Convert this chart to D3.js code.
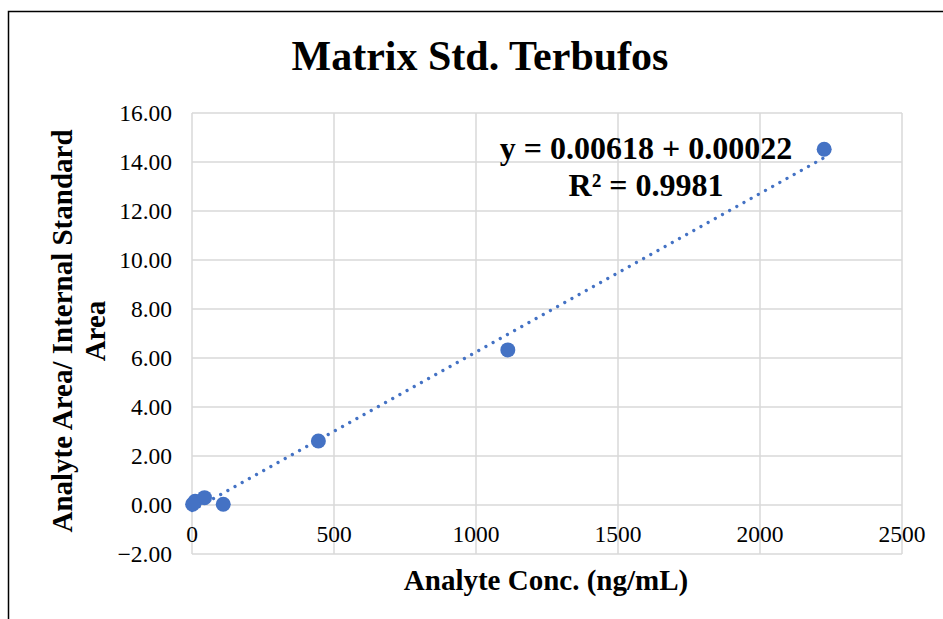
<!DOCTYPE html>
<html>
<head>
<meta charset="utf-8">
<script src="https://cdn.jsdelivr.net/npm/d3@7"></script>
<style>
  body { margin: 0; background: #fff; }
  text { font-family: "Liberation Serif", "Times New Roman", serif; }
</style>
</head>
<body>
<script>
//chart values
var conc = [2.2, 11, 44, 110, 445, 1112, 2226];
var ratio = [0.03, 0.15, 0.30, 0.03, 2.61, 6.33, 14.52];
var xTicks = [0, 500, 1000, 1500, 2000, 2500];
var yTicks = [-2, 0, 2, 4, 6, 8, 10, 12, 14, 16];
var titleText = "Matrix Std. Terbufos";
var xTitle = "Analyte Conc. (ng/mL)";
var yTitle = ["Analyte Area/ Internal Standard", "Area"];
var eqText = ["y = 0.00618 + 0.00022", "R\u00b2 = 0.9981"];

window.onload = drawChart();

function drawChart(){
    var width = 943, height = 619;
    var blue = "#4472C4";

    var svg = d3.select("body")
        .append("svg")
        .attr("width", width)
        .attr("height", height);

    //outer frame (runs off the right and bottom)
    svg.append("rect")
        .attr("x", 8.5).attr("y", 11.5)
        .attr("width", 1000).attr("height", 700)
        .style("fill", "#fff")
        .style("stroke", "#000")
        .style("stroke-width", 1.5);

    var x = d3.scaleLinear().domain([0, 2500]).range([192, 902]);
    var y = d3.scaleLinear().domain([-2, 16]).range([554, 113]);

    //gridlines
    svg.selectAll(".hgrid")
        .data(yTicks)
        .enter()
        .append("line")
        .attr("x1", x(0)).attr("x2", x(2500))
        .attr("y1", function(d){ return y(d); })
        .attr("y2", function(d){ return y(d); })
        .style("stroke", "#d9d9d9")
        .style("stroke-width", 1.5);
    svg.selectAll(".vgrid")
        .data(xTicks)
        .enter()
        .append("line")
        .attr("y1", y(-2)).attr("y2", y(16))
        .attr("x1", function(d){ return x(d); })
        .attr("x2", function(d){ return x(d); })
        .style("stroke", "#d9d9d9")
        .style("stroke-width", 1.5);

    //tick labels
    svg.selectAll(".ylab")
        .data(yTicks)
        .enter()
        .append("text")
        .attr("x", 172)
        .attr("y", function(d){ return y(d) + 8; })
        .attr("text-anchor", "end")
        .style("font-size", "23.5px")
        .text(function(d){ return d3.format(".2f")(d); });
    svg.selectAll(".xlab")
        .data(xTicks)
        .enter()
        .append("text")
        .attr("x", function(d){ return x(d); })
        .attr("y", 542)
        .attr("text-anchor", "middle")
        .style("font-size", "23.5px")
        .text(function(d){ return d; });

    //linear trendline (least squares)
    var mx = d3.mean(conc), my = d3.mean(ratio);
    var sxy = d3.sum(conc, function(d, i){ return (d - mx) * (ratio[i] - my); });
    var sxx = d3.sum(conc, function(d){ return (d - mx) * (d - mx); });
    var slope = sxy / sxx, icpt = my - slope * mx;
    var trend = [0, d3.max(conc)].map(function(v){ return [v, icpt + slope * v]; });

    svg.append("path")
        .datum(trend)
        .attr("d", d3.line()
            .x(function(d){ return x(d[0]); })
            .y(function(d){ return y(d[1]); }))
        .style("fill", "none")
        .style("stroke", blue)
        .style("stroke-width", 3.3)
        .style("stroke-linecap", "round")
        .style("stroke-dasharray", "0.01,8.2");

    //points
    svg.selectAll(".pt")
        .data(conc)
        .enter()
        .append("circle")
        .attr("cx", function(d){ return x(d); })
        .attr("cy", function(d, i){ return y(ratio[i]); })
        .attr("r", 7.5)
        .style("fill", blue);

    //title
    svg.append("text")
        .attr("x", 480).attr("y", 70)
        .attr("text-anchor", "middle")
        .style("font-size", "42px")
        .style("font-weight", "bold")
        .text(titleText);

    //equation label
    svg.selectAll(".eq")
        .data(eqText)
        .enter()
        .append("text")
        .attr("x", 646)
        .attr("y", function(d, i){ return 159 + i * 37; })
        .attr("text-anchor", "middle")
        .style("font-size", "32px")
        .style("font-weight", "bold")
        .text(function(d){ return d; });

    //axis titles
    svg.append("text")
        .attr("x", 546).attr("y", 590)
        .attr("text-anchor", "middle")
        .style("font-size", "29px")
        .style("font-weight", "bold")
        .text(xTitle);

    svg.selectAll(".ytitle")
        .data(yTitle)
        .enter()
        .append("text")
        .attr("transform", function(d, i){
            return "translate(" + (72 + i * 33) + ",331) rotate(-90)";
        })
        .attr("text-anchor", "middle")
        .style("font-size", "29px")
        .style("font-weight", "bold")
        .text(function(d){ return d; });
}
</script>
</body>
</html>
